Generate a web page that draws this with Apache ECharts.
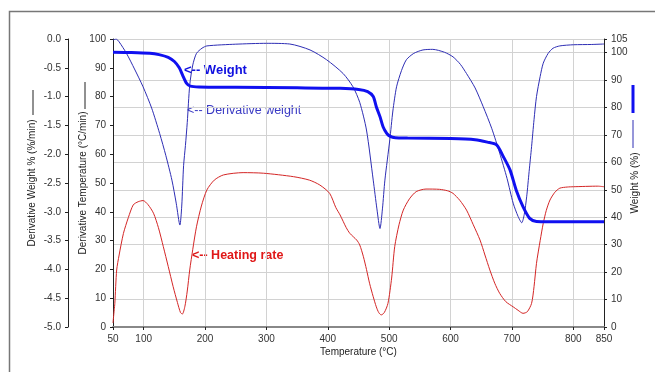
<!DOCTYPE html>
<html>
<head>
<meta charset="utf-8">
<script src="https://cdn.jsdelivr.net/npm/echarts@6.0.0/dist/echarts.min.js"></script>
<style>
  html, body { margin: 0; padding: 0; background: #fff; }
  #chart { width: 655px; height: 372px; }
</style>
</head>
<body>
<div id="chart"></div>
<script>
// axis ticks
const tempTicks = [50, 100, 200, 300, 400, 500, 600, 700, 800, 850]
const weightTicks = [0, 10, 20, 30, 40, 50, 60, 70, 80, 90, 100, 105]

// Weight % (right axis)
const weightTemp = [50, 80, 110, 125, 140, 150, 158, 164, 170, 176, 190, 250, 350, 420, 450, 465, 474, 479, 485, 490, 496, 501, 510, 530, 600, 640, 660, 675, 686, 697, 707, 718, 729, 740, 760, 850]
const weightPct = [100.2, 100.1, 99.8, 99.3, 98.3, 96.8, 94.5, 91.5, 88.8, 87.8, 87.5, 87.4, 87.2, 87.0, 86.6, 85.8, 84.0, 80.3, 76.7, 73.0, 70.6, 69.6, 69.0, 68.9, 68.7, 68.3, 67.4, 66.4, 62.1, 57.2, 49.9, 43.9, 39.6, 38.5, 38.4, 38.4]

// Derivative weight (%/min, outer left axis)
const derivTemp = [50, 55, 60, 72, 85, 99, 113, 126, 136, 146, 153, 159, 162, 165, 168, 171, 175, 180, 186, 195, 203, 250, 300, 338, 371, 398, 425, 441, 452, 463, 474, 480, 485, 489, 493, 501, 506, 512, 520, 528, 540, 555, 571, 590, 604, 616, 626, 640, 653, 667, 680, 692, 702, 710, 716, 720, 724, 728, 732, 736, 740, 746, 751, 759, 767, 778, 800, 830, 850]
const derivWeight = [-0.02, 0, -0.05, -0.25, -0.52, -0.83, -1.2, -1.64, -2.02, -2.45, -2.85, -3.23, -2.9, -2.2, -1.85, -1.45, -0.8, -0.45, -0.25, -0.16, -0.12, -0.09, -0.075, -0.087, -0.19, -0.36, -0.6, -0.83, -1.1, -1.58, -2.45, -2.95, -3.29, -2.95, -2.45, -1.75, -1.25, -0.83, -0.55, -0.36, -0.25, -0.19, -0.18, -0.23, -0.31, -0.44, -0.6, -0.85, -1.17, -1.55, -1.98, -2.42, -2.85, -3.08, -3.19, -3.05, -2.74, -2.3, -1.87, -1.4, -1.0, -0.65, -0.42, -0.25, -0.16, -0.12, -0.1, -0.095, -0.087]

// Heating rate (°C/min, inner left axis)
const rateTemp = [50, 52, 53, 56, 60, 67, 75, 83, 91, 99, 107, 116, 124, 132, 140, 148, 155, 160, 163, 167, 171, 175, 180, 186, 194, 203, 215, 230, 262, 295, 344, 370, 387, 403, 413, 420, 430, 436, 447, 452, 458, 463, 468, 474, 479, 483, 487, 492, 498, 504, 509, 516, 523, 533, 544, 560, 582, 595, 604, 615, 626, 637, 648, 656, 664, 672, 680, 690, 702, 710, 718, 725, 732, 736, 740, 746, 751, 756, 762, 770, 778, 790, 800, 840, 850]
const heatingRate = [1.4, 6, 8.2, 19.8, 25, 32.5, 38, 42.4, 43.5, 43.9, 42.5, 39.5, 34.5, 27.9, 21, 14, 8.5, 5, 4.5, 7, 12.5, 19.8, 27, 34.8, 42, 47.6, 51, 52.8, 53.6, 53.4, 52.2, 51, 49.3, 46.4, 41.5, 38.9, 34.5, 32.5, 30.2, 28.5, 24.4, 20, 15.2, 10.5, 7.0, 5, 4.2, 5, 8.2, 17, 27.9, 35.5, 40.6, 44.5, 47, 47.9, 47.8, 47.3, 46.4, 44, 40.6, 35.5, 30.2, 25, 19.8, 15.2, 11.7, 8.8, 7, 5.8, 4.75, 5.3, 8.2, 14, 22.1, 30, 36, 40.5, 44.1, 46.8, 48.2, 48.6, 48.7, 48.9, 48.7]

const pairs = (xs, ys) => xs.map((x, i) => [x, ys[i]])

const font = '"Liberation Sans", Arial, sans-serif'
const labelStyle = { fontSize: 10, color: '#333', fontFamily: font }
const nameStyle = { fontSize: 10, color: '#222', fontFamily: font }

const chart = echarts.init(document.getElementById('chart'))

const option = {
  backgroundColor: '#fff',
  animation: false,
  grid: { left: 113, right: 51, top: 39, bottom: 45, containLabel: false, outerBoundsMode: 'none' },
  xAxis: {
    type: 'value',
    min: 50,
    max: 850,
    name: 'Temperature (°C)',
    nameLocation: 'middle',
    nameGap: 20,
    nameMoveOverlap: false,
    nameTextStyle: nameStyle,
    axisLine: { lineStyle: { color: '#888', width: 2 } },
    axisTick: { show: true, length: 3, customValues: tempTicks, lineStyle: { color: '#222' } },
    axisLabel: { ...labelStyle, margin: 7, customValues: tempTicks },
    splitLine: { show: true, lineStyle: { color: '#d2d2d2', width: 1 } }
  },
  yAxis: [
    // heating rate, inner left
    {
      type: 'value',
      position: 'left',
      min: 0,
      max: 100,
      interval: 10,
      name: 'Derivative Temperature (°C/min)',
      nameLocation: 'middle',
      nameGap: 25,
      nameMoveOverlap: false,
      nameTextStyle: nameStyle,
      axisLine: { show: true, lineStyle: { color: '#222' } },
      axisTick: { show: true, length: 3, lineStyle: { color: '#222' } },
      axisLabel: { ...labelStyle, margin: 7 },
      splitLine: { show: false }
    },
    // derivative weight, outer left
    {
      type: 'value',
      position: 'left',
      offset: 45,
      min: -5,
      max: 0,
      interval: 0.5,
      name: 'Derivative Weight % (%/min)',
      nameLocation: 'middle',
      nameGap: 31,
      nameMoveOverlap: false,
      nameTextStyle: nameStyle,
      axisLine: { show: true, lineStyle: { color: '#222' } },
      axisTick: { show: true, length: 3, lineStyle: { color: '#222' } },
      axisLabel: { ...labelStyle, margin: 7, formatter: v => v.toFixed(1) },
      splitLine: { show: false }
    },
    // weight %, right
    {
      type: 'value',
      position: 'right',
      min: 0,
      max: 105,
      interval: 10,
      name: 'Weight % (%)',
      nameLocation: 'middle',
      nameGap: 26,
      nameMoveOverlap: false,
      nameTextStyle: nameStyle,
      axisLine: { show: true, lineStyle: { color: '#222' } },
      axisTick: { show: true, length: 3, customValues: weightTicks, lineStyle: { color: '#222' } },
      axisLabel: { ...labelStyle, margin: 7, customValues: weightTicks },
      splitLine: { show: true, lineStyle: { color: '#d2d2d2', width: 1 } }
    }
  ],
  series: [
    {
      name: 'Heating rate',
      type: 'line',
      yAxisIndex: 0,
      showSymbol: false,
      smooth: 0.25,
      lineStyle: { color: '#d42626', width: 1 },
      itemStyle: { color: '#d42626' },
      data: pairs(rateTemp, heatingRate),
      z: 2
    },
    {
      name: 'Derivative weight',
      type: 'line',
      yAxisIndex: 1,
      showSymbol: false,
      smooth: 0.25,
      lineStyle: { color: '#2e2eb4', width: 1 },
      itemStyle: { color: '#2e2eb4' },
      data: pairs(derivTemp, derivWeight),
      z: 3
    },
    {
      name: 'Weight',
      type: 'line',
      yAxisIndex: 2,
      showSymbol: false,
      smooth: 0.25,
      lineStyle: { color: '#1010f0', width: 3 },
      itemStyle: { color: '#1010f0' },
      data: pairs(weightTemp, weightPct),
      z: 4
    }
  ],
  graphic: [
    // outer frame
    { type: 'rect', shape: { x: 9.5, y: 11.5, width: 700, height: 400 }, style: { fill: 'none', stroke: '#777', lineWidth: 1.5 }, silent: true },
    // little key lines next to the axis names
    { type: 'line', shape: { x1: 33, y1: 90, x2: 33, y2: 115 }, style: { stroke: '#222', lineWidth: 1 } },
    { type: 'line', shape: { x1: 85, y1: 82, x2: 85, y2: 109 }, style: { stroke: '#222', lineWidth: 1 } },
    { type: 'line', shape: { x1: 633, y1: 85, x2: 633, y2: 113 }, style: { stroke: '#1010f0', lineWidth: 3 } },
    { type: 'line', shape: { x1: 633, y1: 120, x2: 633, y2: 148 }, style: { stroke: '#2e2eb4', lineWidth: 1 } },
    // curve notes
    { type: 'text', x: 184, y: 70, style: { text: '<-- Weight', fill: '#1010e0', font: 'bold 13px ' + font, verticalAlign: 'middle' } },
    { type: 'text', x: 187, y: 111, style: { text: '<-- Derivative weight', fill: '#3a3ac4', font: '12.5px ' + font, verticalAlign: 'middle' } },
    { type: 'text', x: 192, y: 256, style: { text: '<-- Heating rate', fill: '#e01818', font: 'bold 12.5px ' + font, verticalAlign: 'middle' } }
  ]
}

chart.setOption(option)
</script>
</body>
</html>
